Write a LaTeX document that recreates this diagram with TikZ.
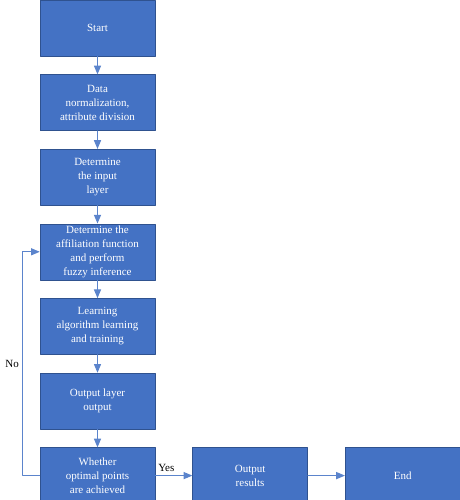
\documentclass[tikz,border=0pt]{standalone}
\usepackage{fontspec}
\setmainfont{Liberation Serif}
\usepackage{tikz}
\usetikzlibrary{arrows}
\usetikzlibrary{positioning}
\definecolor{BoxBlue}{HTML}{4472C4}
\definecolor{EdgeBlue}{HTML}{2F528F}
\definecolor{LineBlue}{HTML}{5B84CC}

\begin{document}
\begin{tikzpicture}[line cap=round,line join=round,>=triangle 45,x=1pt,y=1pt,
  block/.style={rectangle,draw=EdgeBlue,line width=0.6pt,fill=BoxBlue,text=white,
    align=center,minimum width=115pt,minimum height=56pt,inner sep=0pt,
    font=\fontsize{11}{14}\selectfont},
  flow/.style={->,color=LineBlue,line width=1pt}]
\useasboundingbox (0,0) rectangle (459,-500);
% main column
\node[block] (start) at (97.5,-28) {Start};
\node[block,below=18pt of start] (norm) {Data\\normalization,\\attribute division};
\node[block,below=18pt of norm] (input) {Determine\\the input\\layer};
\node[block,below=18pt of input] (fuzz) {Determine the\\affiliation function\\and perform\\fuzzy inference};
\node[block,below=18pt of fuzz] (learn) {Learning\\algorithm learning\\and training};
\node[block,below=18pt of learn] (outlayer) {Output layer\\output};
\node[block,below=18pt of outlayer] (check) {Whether\\optimal points\\are achieved};
% bottom row
\node[block,right=37pt of check] (result) {Output\\results};
\node[block,right=37pt of result] (stop) {End};
\draw[flow] (start) -- (norm);
\draw[flow] (norm) -- (input);
\draw[flow] (input) -- (fuzz);
\draw[flow] (fuzz) -- (learn);
\draw[flow] (learn) -- (outlayer);
\draw[flow] (outlayer) -- (check);
\draw[flow] (check) -- node[above,pos=0.3,black,font=\fontsize{11}{14}\selectfont] {Yes} (result);
\draw[flow] (result) -- (stop);
\coordinate[left=17pt of check.west] (back);
\draw[flow] (check.west) -- (back) |- node[left,pos=0.25,black,font=\fontsize{11}{14}\selectfont] {No} (fuzz.west);
\end{tikzpicture}
\end{document}
